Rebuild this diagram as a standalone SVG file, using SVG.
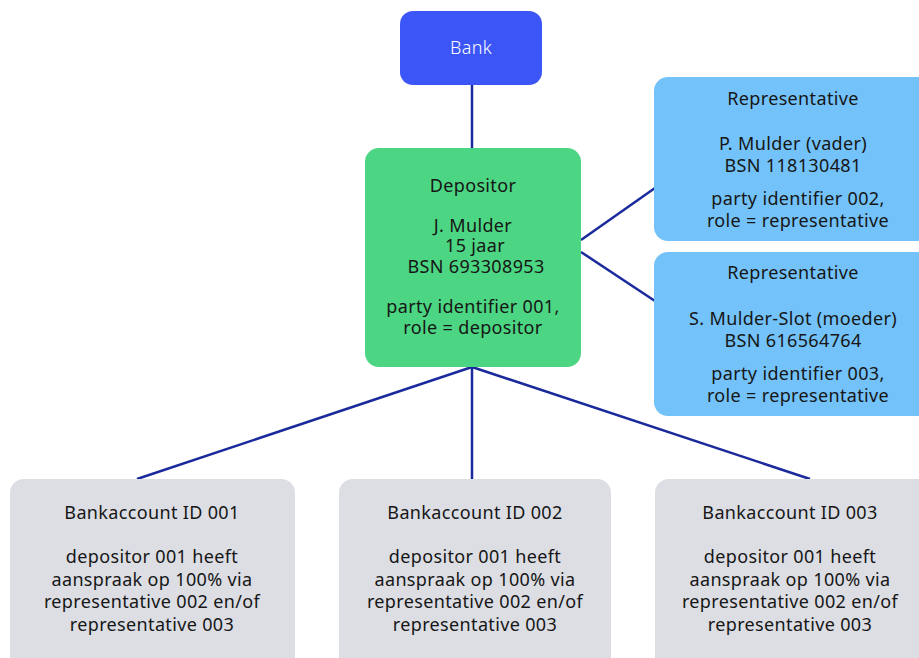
<svg xmlns="http://www.w3.org/2000/svg" width="919" height="658" viewBox="0 0 919 658">
<style>
text{font-family:"Noto Sans","Open Sans",sans-serif;font-size:18px;letter-spacing:0.35px;fill:#161616;text-anchor:middle}
.bank{fill:#3b55f6}
.dep{fill:#4cd582}
.rep{fill:#73c2f9}
.acc{fill:#dcdee4}
.w{fill:#ffffff;font-weight:300}
#connectors line{stroke:#1a2a9c;stroke-width:2.5}
</style>
<rect width="919" height="658" fill="#ffffff"/>
<g id="connectors">
<line x1="472" y1="85" x2="472" y2="148"/>
<line x1="581" y1="240" x2="655" y2="188"/>
<line x1="581" y1="252" x2="655" y2="301"/>
<line x1="472" y1="367" x2="137" y2="479"/>
<line x1="472" y1="367" x2="472" y2="479"/>
<line x1="472" y1="367" x2="810" y2="479"/>
</g>
<g id="bank">
<rect class="bank" x="400" y="11" width="142" height="74" rx="13"/>
<text class="w" x="471" y="54">Bank</text>
</g>
<g id="depositor">
<rect class="dep" x="365" y="148" width="216" height="219" rx="14"/>
<text x="473" y="192">Depositor</text>
<text x="473" y="232">J. Mulder</text>
<text x="475" y="252">15 jaar</text>
<text x="476" y="273">BSN 693308953</text>
<text x="473" y="313">party identifier 001,</text>
<text x="473" y="334">role = depositor</text>
</g>
<g id="rep1">
<rect class="rep" x="654" y="77" width="280" height="164" rx="14"/>
<text x="793" y="105">Representative</text>
<text x="793" y="150">P. Mulder (vader)</text>
<text x="793" y="172">BSN 118130481</text>
<text x="798" y="205">party identifier 002,</text>
<text x="798" y="227">role = representative</text>
</g>
<g id="rep2">
<rect class="rep" x="654" y="252" width="280" height="164" rx="14"/>
<text x="793" y="279">Representative</text>
<text x="793" y="325">S. Mulder-Slot (moeder)</text>
<text x="793" y="347">BSN 616564764</text>
<text x="798" y="380">party identifier 003,</text>
<text x="798" y="402">role = representative</text>
</g>
<g id="acc1">
<rect class="acc" x="10" y="479" width="285" height="200" rx="14"/>
<text x="152" y="519">Bankaccount ID 001</text>
<text x="152" y="563">depositor 001 heeft</text>
<text x="152" y="586">aanspraak op 100% via</text>
<text x="152" y="608">representative 002 en/of</text>
<text x="152" y="631">representative 003</text>
</g>
<g id="acc2">
<rect class="acc" x="339" y="479" width="272" height="200" rx="14"/>
<text x="475" y="519">Bankaccount ID 002</text>
<text x="475" y="563">depositor 001 heeft</text>
<text x="475" y="586">aanspraak op 100% via</text>
<text x="475" y="608">representative 002 en/of</text>
<text x="475" y="631">representative 003</text>
</g>
<g id="acc3">
<rect class="acc" x="655" y="479" width="280" height="200" rx="14"/>
<text x="790" y="519">Bankaccount ID 003</text>
<text x="790" y="563">depositor 001 heeft</text>
<text x="790" y="586">aanspraak op 100% via</text>
<text x="790" y="608">representative 002 en/of</text>
<text x="790" y="631">representative 003</text>
</g>
</svg>
